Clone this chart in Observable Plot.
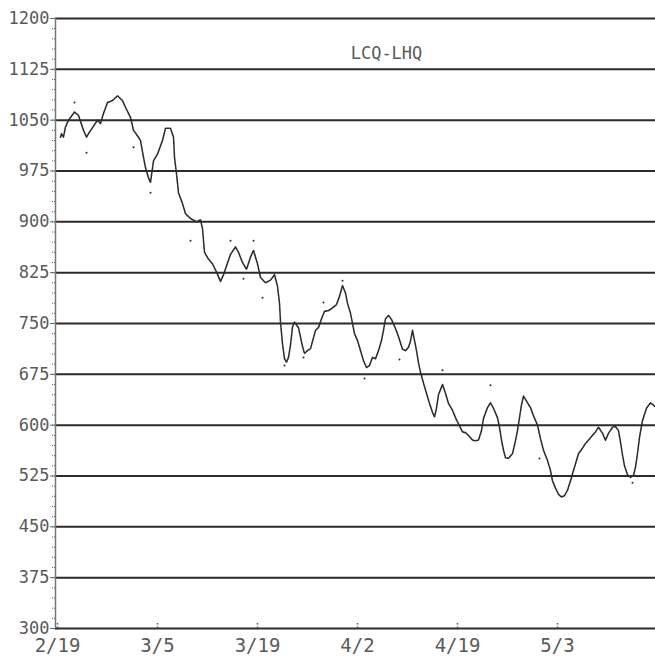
<!DOCTYPE html>
<html>
<head>
<meta charset="utf-8">
<script src="https://cdn.jsdelivr.net/npm/d3@7"></script>
<script src="https://cdn.jsdelivr.net/npm/@observablehq/plot@0.6"></script>
<style>
  html, body { margin: 0; padding: 0; background: #fff; }
  #chart svg { display: block; }
</style>
</head>
<body>
<div id="chart"></div>
<script>
// ---- data ----
const titleText = "LCQ-LHQ";

// x = trading-day index, 2/19 = 0, ten days between labelled ticks
const xTickDays = [0, 10, 20, 30, 40, 50];
const xTickLabels = ["2/19", "3/5", "3/19", "4/2", "4/19", "5/3"];

const yTicks = [300, 375, 450, 525, 600, 675, 750, 825, 900, 975, 1050, 1125, 1200];
const yMinorTicks = d3.range(300, 1201, 15);

const days = [
  0.3, 0.4, 0.6, 0.8, 1.1, 1.5, 1.7, 2.1, 2.6, 2.9, 3.1, 3.5, 4.0, 4.3, 4.6, 5.0, 5.5,
  6.0, 6.5, 6.8, 7.3, 7.6, 8.0, 8.3, 8.6, 8.8, 9.1, 9.3, 9.6, 10.0, 10.5, 10.8, 11.3,
  11.6, 11.7, 11.9, 12.1, 12.5, 12.8, 13.3, 13.9, 14.3, 14.5, 14.7, 15.1, 15.5, 15.9,
  16.3, 16.6, 17.3, 17.8, 18.1, 18.5, 18.9, 19.3, 19.6, 20.0, 20.3, 20.8, 21.3, 21.7,
  22.0, 22.2, 22.3, 22.5, 22.7, 22.9, 23.1, 23.3, 23.5, 23.7, 24.1, 24.3, 24.5, 24.7,
  25.0, 25.3, 25.6, 25.8, 26.1, 26.4, 26.7, 27.1, 27.5, 27.9, 28.2, 28.5, 28.8, 29.0,
  29.3, 29.5, 29.7, 30.0, 30.3, 30.6, 30.9, 31.2, 31.5, 31.8, 32.1, 32.4, 32.6, 32.8,
  33.1, 33.4, 33.7, 34.0, 34.2, 34.5, 34.8, 35.1, 35.3, 35.5, 35.7, 35.9, 36.1, 36.3,
  36.6, 36.9, 37.2, 37.5, 37.7, 37.9, 38.1, 38.5, 38.8, 39.1, 39.5, 39.8, 40.1, 40.5,
  40.8, 41.1, 41.5, 41.8, 42.1, 42.4, 42.6, 43.0, 43.3, 43.6, 44.0, 44.2, 44.4, 44.6,
  44.8, 45.1, 45.5, 45.8, 46.0, 46.2, 46.4, 46.6, 47.0, 47.3, 47.6, 48.0, 48.3, 48.6,
  49.0, 49.3, 49.5, 49.8, 50.1, 50.4, 50.7, 51.0, 51.3, 51.6, 51.9, 52.1, 52.5, 52.8,
  53.1, 53.5, 53.8, 54.1, 54.5, 54.8, 55.1, 55.5, 55.8, 56.1, 56.3, 56.5, 56.7, 57.0,
  57.3, 57.6, 57.8, 58.0, 58.2, 58.5, 58.9, 59.3, 59.8
];
const values = [
  1025, 1030, 1025, 1040, 1050, 1058, 1062, 1057, 1035, 1025, 1030, 1039, 1050, 1045, 1060, 1076, 1079,
  1086, 1079, 1069, 1054, 1035, 1027, 1020, 995, 980, 965, 958, 990, 1000, 1020, 1038, 1038,
  1025, 995, 971, 943, 927, 912, 905, 900, 903, 890, 855, 845, 838, 826,
  812, 822, 852, 863, 855, 840, 830, 848, 858, 838, 818, 810, 814, 822,
  805, 780, 752, 720, 698, 693, 700, 718, 745, 752, 744, 730, 716, 706,
  710, 713, 729, 740, 744, 757, 768, 769, 773, 778, 790, 806, 795, 780,
  765, 750, 735, 725, 710, 695, 685, 688, 700, 698, 710, 725, 740, 757,
  762, 756, 746, 735, 726, 712, 710, 715, 724, 740, 725, 710, 692, 678,
  662, 647, 632, 619, 612, 625, 645, 660, 647, 632, 622, 611, 602, 590,
  589, 585, 578, 577, 578, 592, 610, 626, 633, 625, 611, 597, 578, 563,
  552, 551, 558, 577, 592, 611, 630, 643, 633, 626, 614, 600, 580, 563,
  548, 533, 518, 507, 498, 494, 496, 504, 518, 533, 548, 558, 566, 573,
  578, 585, 590, 597, 588, 578, 588, 597, 598, 592, 575, 556, 540, 527,
  523, 526, 538, 558, 582, 607, 625, 633, 627, 617, 602
];

// stray printer dots that sit off the main trace
const strayDays = [1.7, 2.9, 7.6, 9.3, 13.3, 17.3, 19.6, 18.6, 20.5, 22.7, 24.6, 26.6, 28.5, 30.7, 34.2, 38.5, 43.3, 48.2, 57.5];
const strayValues = [1076, 1002, 1010, 943, 872, 872, 872, 816, 788, 688, 700, 781, 813, 669, 697, 681, 659, 551, 515];

// ---- build tables ----
const series = days.map((d, i) => ({day: d, value: values[i]}));
const strays = strayDays.map((d, i) => ({day: d, value: strayValues[i]}));

const ink = "#2b2b2b";
const textInk = "#5a5a5a";
const mono = "'DejaVu Sans Mono', 'Liberation Mono', monospace";

const chart = Plot.plot({
  width: 655,
  height: 658,
  marginLeft: 55,
  marginRight: 0,
  marginTop: 18,
  marginBottom: 30,
  style: {fontFamily: mono, background: "#fff", color: textInk},
  x: {type: "linear", domain: [-0.2, 59.8], label: null},
  y: {domain: [300, 1200], label: null},
  marks: [
    Plot.ruleY(yTicks, {stroke: ink, strokeWidth: 2}),
    Plot.frame({anchor: "left", stroke: "#777", strokeWidth: 1.5, strokeDasharray: "1,1.5"}),
    Plot.axisY({ticks: yMinorTicks, tickSize: 3, tickFormat: () => "", stroke: "#666", strokeDasharray: "1,1", label: null}),
    Plot.axisY({ticks: yTicks, tickSize: 5, tickPadding: 1, fontSize: 17, fill: textInk, stroke: "#666",
      tickFormat: d => String(d), label: null}),
    Plot.ruleX(xTickDays, {y1: 300, y2: 308, stroke: "#555", strokeWidth: 1.5, strokeDasharray: "1.5,2"}),
    Plot.axisX({ticks: xTickDays, tickSize: 0, tickPadding: 10, fontSize: 19, fill: textInk,
      tickFormat: d => xTickLabels[xTickDays.indexOf(d)], label: null}),
    Plot.line(series, {x: "day", y: "value", stroke: ink, strokeWidth: 1.6, strokeDasharray: "1.2,1", curve: "linear"}),
    Plot.dot(strays, {x: "day", y: "value", r: 1, fill: ink, stroke: "none"}),
    Plot.text([titleText], {text: d => d, frameAnchor: "top", dx: 31, dy: 28, fontSize: 17, fill: textInk, fontFamily: mono})
  ]
});
document.getElementById("chart").appendChild(chart);
</script>
</body>
</html>
